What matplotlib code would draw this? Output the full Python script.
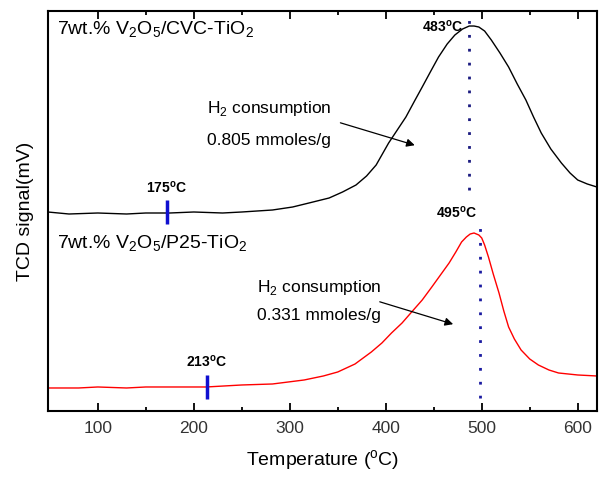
import matplotlib.pyplot as plt

plt.rcParams['font.family'] = 'Liberation Sans'
plt.rcParams['mathtext.fontset'] = 'custom'
plt.rcParams['mathtext.rm'] = 'Liberation Sans'
plt.rcParams['mathtext.bf'] = 'Liberation Sans:bold'

# TPR curves (signal in arbitrary units)
cvc_temp = [48, 70, 100, 130, 150, 175, 200, 230, 250, 282, 303, 320, 341, 355, 369,
            380, 390, 403, 412, 421, 430, 438, 447, 455, 464, 472, 480, 487, 492, 497,
            503, 510, 519, 528, 537, 546, 554, 562, 572, 583, 592, 600, 610, 620]
cvc_signal = [199, 197, 198, 197, 198, 198, 199, 198, 199, 201, 204, 208, 213, 219, 226,
              235, 246, 268, 281, 294, 310, 324, 340, 354, 367, 376, 382, 385, 385, 384,
              380, 371, 358, 344, 327, 311, 294, 278, 262, 248, 238, 231, 227, 224]

p25_temp = [48, 80, 100, 130, 150, 180, 213, 250, 282, 315, 335, 350, 368, 385, 396,
            406, 417, 427, 438, 448, 457, 466, 473, 479, 484, 488, 492, 497, 500, 503,
            507, 512, 518, 523, 528, 534, 541, 550, 559, 570, 580, 600, 620]
p25_signal = [23, 23, 24, 23, 24, 24, 24, 26, 27, 31, 35, 39, 47, 59, 68,
              78, 88, 99, 111, 124, 136, 148, 159, 169, 174, 177, 178, 176, 173, 166,
              154, 137, 118, 100, 84, 72, 61, 52, 46, 41, 38, 36, 35]

# peak and onset positions
peak_temp = [487, 498]
onset_temp = [172, 214]
onset_signal = [199, 24]

fig = plt.figure(figsize=(6.06, 4.79), dpi=100)
ax = fig.add_axes([0.079, 0.142, 0.906, 0.835])

ax.plot(cvc_temp, cvc_signal, color='black', lw=1)
ax.plot(p25_temp, p25_signal, color='red', lw=1)

# dotted peak markers
ax.plot([peak_temp[0], peak_temp[0]], [221, 400], color='#1a1a80', lw=2, ls=(0, (1, 4)))
ax.plot([peak_temp[1], peak_temp[1]], [13, 193], color='#1a1aa0', lw=2, ls=(0, (1, 4)))

# onset markers
for t, s in zip(onset_temp, onset_signal):
    ax.plot([t, t], [s - 12, s + 12], color='#1010d0', lw=2.5, solid_capstyle='butt')

ax.text(481, 384, '483$^{\\mathbf{o}}$C', fontsize=10, fontweight='bold', ha='right', va='center')
ax.text(495, 198, '495$^{\\mathbf{o}}$C', fontsize=10, fontweight='bold', ha='right', va='center')
ax.text(193, 223, '175$^{\\mathbf{o}}$C', fontsize=10, fontweight='bold', ha='right', va='center')
ax.text(235, 49, '213$^{\\mathbf{o}}$C', fontsize=10, fontweight='bold', ha='right', va='center')

ax.text(58, 376, '7wt.% V$_2$O$_5$/CVC-TiO$_2$', fontsize=14, va='baseline')
ax.text(58, 162, '7wt.% V$_2$O$_5$/P25-TiO$_2$', fontsize=14, va='baseline')

ax.text(214, 298, 'H$_2$ consumption', fontsize=12.5, va='baseline')
ax.text(214, 266, '0.805 mmoles/g', fontsize=12.5, va='baseline')
ax.annotate('', xy=(433, 265), xytext=(350, 289),
            arrowprops=dict(arrowstyle='-|>', color='black', lw=0.9, mutation_scale=12))

ax.text(266, 119, 'H$_2$ consumption', fontsize=12.5, va='baseline')
ax.text(266, 91, '0.331 mmoles/g', fontsize=12.5, va='baseline')
ax.annotate('', xy=(473, 86), xytext=(391, 110),
            arrowprops=dict(arrowstyle='-|>', color='black', lw=0.9, mutation_scale=12))

ax.set_xlim(48, 620)
ax.set_ylim(0, 400)
ax.set_xticks([100, 200, 300, 400, 500, 600])
ax.set_xticks([150, 250, 350, 450, 550], minor=True)
ax.set_yticks([])
ax.tick_params(axis='x', which='major', direction='in', top=True, length=6, width=1.3,
               labelsize=12.5, pad=7, labelcolor='#333333')
ax.tick_params(axis='x', which='minor', direction='in', top=True, length=3, width=1.3)
for sp in ax.spines.values():
    sp.set_linewidth(1.5)

ax.set_xlabel('Temperature ($^{\\rm o}$C)', fontsize=14, labelpad=9)
ax.set_ylabel('TCD signal(mV)', fontsize=14, labelpad=10)

fig.savefig('out.png', dpi=100)
